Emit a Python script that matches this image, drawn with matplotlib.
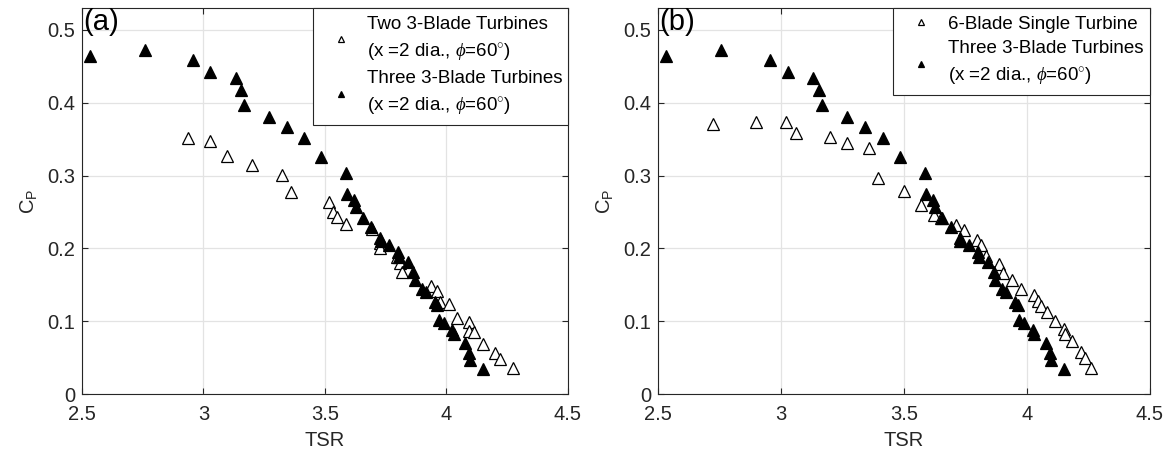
import numpy as np
import matplotlib
matplotlib.use('Agg')
import matplotlib.pyplot as plt
from matplotlib.ticker import FormatStrFormatter

plt.rcParams['font.family'] = ['Liberation Sans', 'DejaVu Sans']
plt.rcParams['mathtext.fontset'] = 'custom'
plt.rcParams['mathtext.it'] = 'Liberation Serif:italic'
plt.rcParams['mathtext.rm'] = 'Liberation Sans'

# three 3-blade turbines (same series in both panels)
three_tsr = [2.534, 2.758, 2.957, 3.028, 3.132, 3.154, 3.165, 3.270, 3.342, 3.414,
             3.484, 3.586, 3.591, 3.619, 3.628, 3.656, 3.691, 3.726, 3.729, 3.763,
             3.799, 3.803, 3.841, 3.864, 3.869, 3.900, 3.914, 3.951, 3.962, 3.969,
             3.990, 4.024, 4.030, 4.077, 4.094, 4.096, 4.150]
three_cp = [0.464, 0.472, 0.459, 0.442, 0.434, 0.417, 0.397, 0.380, 0.367, 0.352,
            0.325, 0.304, 0.274, 0.267, 0.257, 0.241, 0.229, 0.214, 0.210, 0.205,
            0.195, 0.188, 0.181, 0.168, 0.157, 0.144, 0.140, 0.127, 0.122, 0.102,
            0.0975, 0.088, 0.082, 0.070, 0.056, 0.047, 0.034]

# two 3-blade turbines, panel (a)
two_tsr = [2.938, 3.028, 3.097, 3.201, 3.323, 3.359, 3.516, 3.533, 3.551, 3.586,
           3.692, 3.726, 3.728, 3.798, 3.807, 3.816, 3.938, 3.960, 3.973, 4.009,
           4.043, 4.094, 4.094, 4.113, 4.149, 4.200, 4.220, 4.272]
two_cp = [0.352, 0.347, 0.327, 0.314, 0.301, 0.277, 0.264, 0.250, 0.243, 0.234,
          0.226, 0.208, 0.200, 0.188, 0.180, 0.167, 0.149, 0.141, 0.126, 0.123,
          0.104, 0.099, 0.086, 0.085, 0.069, 0.057, 0.048, 0.036]

# 6-blade single turbine, panel (b)
six_tsr = [2.725, 2.900, 3.022, 3.059, 3.200, 3.270, 3.358, 3.394, 3.500, 3.568,
           3.621, 3.652, 3.711, 3.745, 3.798, 3.815, 3.832, 3.886, 3.903, 3.939,
           3.974, 4.027, 4.043, 4.059, 4.080, 4.115, 4.150, 4.155, 4.185, 4.219,
           4.238, 4.259]
six_cp = [0.371, 0.374, 0.373, 0.359, 0.353, 0.345, 0.338, 0.297, 0.279, 0.259,
          0.246, 0.241, 0.232, 0.225, 0.211, 0.205, 0.189, 0.179, 0.166, 0.156,
          0.144, 0.136, 0.128, 0.121, 0.113, 0.100, 0.089, 0.082, 0.073, 0.058,
          0.049, 0.036]

xticks = [2.5, 3, 3.5, 4, 4.5]
yticks = [0, 0.1, 0.2, 0.3, 0.4, 0.5]

cond = '(x =2 dia., $\\phi$=60$^{\\circ}$)'
dark = '#262626'

fig = plt.figure(figsize=(11.74, 4.61), dpi=100)
ax_a = fig.add_axes([0.0698, 0.1453, 0.414, 0.8373])
ax_b = fig.add_axes([0.5605, 0.1453, 0.419, 0.8373])


def style_axes(ax, tag):
    ax.set_xlim(2.5, 4.5)
    ax.set_ylim(0, 0.53)
    ax.set_xticks(xticks)
    ax.set_yticks(yticks)
    ax.xaxis.set_major_formatter(FormatStrFormatter('%g'))
    ax.yaxis.set_major_formatter(FormatStrFormatter('%g'))
    ax.grid(True, color='#e3e3e3', linewidth=0.9)
    ax.set_axisbelow(True)
    ax.tick_params(direction='in', length=4.5, width=0.8, top=True, right=True,
                   labelsize=14.5, colors=dark)
    ax.tick_params(axis='x', pad=8)
    ax.tick_params(axis='y', pad=5)
    for s in ax.spines.values():
        s.set_color(dark)
        s.set_linewidth(0.8)
    ax.set_xlabel('TSR', fontsize=14.5, color=dark, labelpad=5)
    ax.set_ylabel('C$_\\mathregular{P}$', fontsize=14.5, color=dark, labelpad=6)
    ax.text(0.003, 1.0, tag, transform=ax.transAxes, fontsize=21,
            ha='left', va='top', color='black')


def style_legend(ax, x0):
    leg = ax.legend(loc='upper right', bbox_to_anchor=(x0, 0, 1 - x0, 1),
                    mode='expand', borderaxespad=0, fancybox=False,
                    edgecolor=dark, framealpha=1, fontsize=13.5, markerscale=0.6,
                    handletextpad=0.3, borderpad=0.4, labelspacing=0.4,
                    handlelength=2.2)
    leg.get_frame().set_linewidth(0.8)
    for t in leg.get_texts():
        t.set_linespacing(1.6)


ax_a.plot(two_tsr, two_cp, '^', mfc='white', mec='black', ms=8, mew=0.9,
          label='Two 3-Blade Turbines\n' + cond)
ax_a.plot(three_tsr, three_cp, '^', mfc='black', mec='black', ms=8, mew=0.9,
          label='Three 3-Blade Turbines\n' + cond)
style_axes(ax_a, '(a)')
style_legend(ax_a, 0.475)

ax_b.plot(six_tsr, six_cp, '^', mfc='white', mec='black', ms=8, mew=0.9,
          label='6-Blade Single Turbine')
ax_b.plot(three_tsr, three_cp, '^', mfc='black', mec='black', ms=8, mew=0.9,
          label='Three 3-Blade Turbines\n' + cond)
style_axes(ax_b, '(b)')
style_legend(ax_b, 0.478)

fig.savefig('out.png', dpi=100)
